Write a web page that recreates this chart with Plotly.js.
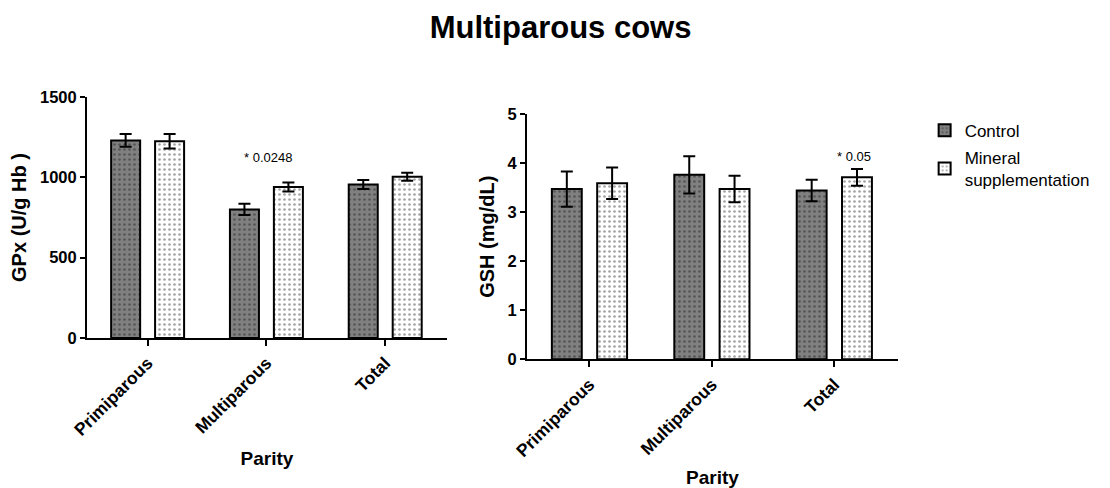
<!DOCTYPE html>
<html>
<head>
<meta charset="utf-8">
<script src="https://cdn.plot.ly/plotly-3.0.1.min.js"></script>
<style>html,body{margin:0;padding:0;background:#fff;}#chart{width:1110px;height:488px;}</style>
</head>
<body>
<div id="chart"></div>
<script>
const categories = ["Primiparous", "Multiparous", "Total"];
const seriesNames = ["Control", "Mineral<br>supplementation"];
const gpxControl = [1230, 800, 955];
const gpxControlErr = [40, 35, 28];
const gpxMineral = [1225, 940, 1004];
const gpxMineralErr = [45, 28, 25];
const gshControl = [3.47, 3.76, 3.44];
const gshControlErr = [0.36, 0.38, 0.22];
const gshMineral = [3.59, 3.47, 3.71];
const gshMineralErr = [0.32, 0.27, 0.17];
const gpxTicks = [0, 500, 1000, 1500];
const gshTicks = [0, 1, 2, 3, 4, 5];
const annotationTexts = ["* 0.0248", "* 0.05"];

const FONT = "Arial, 'Liberation Sans', sans-serif";

function bar(name, x, y, err, xa, ya, bg, fg, show) {
  return {
    type: "bar", name: name, x: x, y: y, xaxis: xa, yaxis: ya,
    showlegend: show, legendgroup: name,
    marker: {
      color: bg,
      line: {color: "#000", width: 2},
      pattern: {shape: ".", fillmode: "overlay", bgcolor: bg, fgcolor: fg, size: 5, solidity: 0.22}
    },
    error_y: {type: "data", array: err, visible: true, color: "#000", thickness: 2, width: 6}
  };
}

const data = [
  bar(seriesNames[0], categories, gpxControl, gpxControlErr, "x", "y", "#808080", "#2a2a2a", true),
  bar(seriesNames[1], categories, gpxMineral, gpxMineralErr, "x", "y", "#ffffff", "#444444", true),
  bar(seriesNames[0], categories, gshControl, gshControlErr, "x2", "y2", "#808080", "#2a2a2a", false),
  bar(seriesNames[1], categories, gshMineral, gshMineralErr, "x2", "y2", "#ffffff", "#444444", false)
];

function xax(domain, anchor) {
  return {
    domain: domain, anchor: anchor, type: "category",
    range: [-0.51, 2.52],
    showline: true, linecolor: "#000", linewidth: 2,
    ticks: "outside", ticklen: 6, tickwidth: 2, tickcolor: "#000",
    tickangle: -45, tickfont: {family: FONT, size: 17.5, weight: "bold", color: "#000"},
    showgrid: false, zeroline: false,
    title: {text: "Parity", font: {family: FONT, size: 19, weight: "bold", color: "#000"}, standoff: 13}
  };
}
function yax(domain, anchor, range, ticks, title) {
  return {
    domain: domain, anchor: anchor, range: range,
    tickvals: ticks, ticktext: ticks.map(String),
    showline: true, linecolor: "#000", linewidth: 2,
    ticks: "outside", ticklen: 5, tickwidth: 2, tickcolor: "#000",
    tickfont: {family: FONT, size: 16.5, weight: "bold", color: "#000"},
    showgrid: false, zeroline: false,
    title: {text: title, font: {family: FONT, size: 20, weight: "bold", color: "#000"}, standoff: 8}
  };
}

const layout = {
  width: 1110, height: 488,
  margin: {l: 0, r: 0, t: 0, b: 0},
  paper_bgcolor: "#fff", plot_bgcolor: "#fff",
  font: {family: FONT, color: "#000"},
  title: {text: "Multiparous cows", font: {family: FONT, size: 31, weight: "bold", color: "#000"},
          x: 0.505, xanchor: "center", y: 0.945, yanchor: "middle", xref: "paper", yref: "container"},
  barmode: "group", bargap: 0.26, bargroupgap: 0.34,
  xaxis: xax([0.0784, 0.4027], "y"),
  yaxis: yax([0.3074, 0.8012], "x", [0, 1500], gpxTicks, "GPx (U/g Hb )"),
  xaxis2: xax([0.4748, 0.809], "y2"),
  yaxis2: yax([0.2637, 0.7664], "x2", [0, 5], gshTicks, "GSH (mg/dL)"),
  legend: {x: 0.833, y: 0.769, xanchor: "left", yanchor: "top", xref: "paper", yref: "paper",
           font: {family: FONT, size: 17, color: "#000"}, tracegroupgap: 2, itemwidth: 30,
           bgcolor: "rgba(0,0,0,0)"},
  annotations: [
    {x: 1.01, y: 1126, xref: "x", yref: "y", text: annotationTexts[0], showarrow: false,
     font: {family: FONT, size: 13, color: "#000"}},
    {x: 2.16, y: 4.13, xref: "x2", yref: "y2", text: annotationTexts[1], showarrow: false,
     font: {family: FONT, size: 13, color: "#000"}}
  ]
};

Plotly.newPlot("chart", data, layout, {displayModeBar: false, staticPlot: true});
</script>
</body>
</html>
